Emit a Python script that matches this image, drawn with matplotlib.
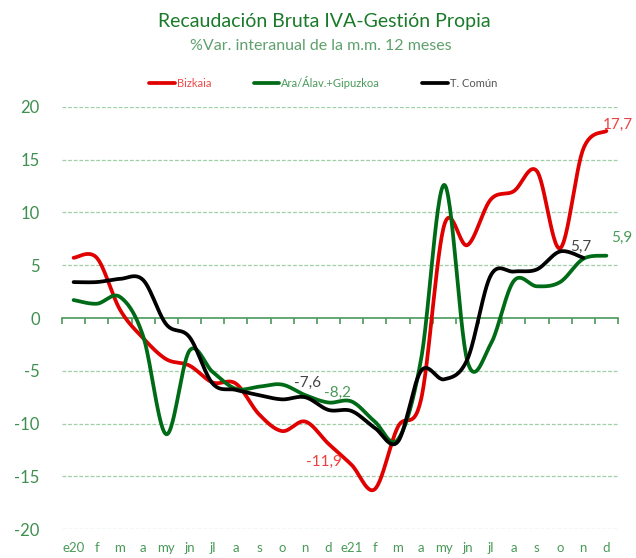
import numpy as np
import matplotlib
matplotlib.use("Agg")
import matplotlib.pyplot as plt

plt.rcParams['font.family'] = ['Lato', 'DejaVu Sans']

months = ['e20', 'f', 'm', 'a', 'my', 'jn', 'jl', 'a', 's', 'o', 'n', 'd',
          'e21', 'f', 'm', 'a', 'my', 'jn', 'jl', 'a', 's', 'o', 'n', 'd']

bizkaia = [5.7, 5.7, 0.8, -1.9, -3.9, -4.5, -6.1, -6.2, -9.1, -10.7, -9.8, -11.9,
           -13.9, -16.2, -10.3, -7.7, 8.8, 6.9, 11.2, 12.0, 13.9, 6.6, 16.0, 17.7]
ara_gip = [1.7, 1.35, 2.0, -1.7, -11.0, -3.1, -5.1, -6.7, -6.5, -6.3, -7.3, -8.0,
           -7.9, -9.8, -11.5, -3.9, 12.6, -4.1, -2.5, 3.5, 3.0, 3.4, 5.6, 5.9]
t_comun = [3.4, 3.4, 3.7, 3.6, -0.6, -1.8, -6.2, -6.8, -7.3, -7.7, -7.5, -8.7,
           -8.8, -10.4, -11.7, -5.0, -5.8, -3.9, 4.0, 4.4, 4.6, 6.3, 5.7]

# data labels: text, x (month index), y
labels = [
    ("-11,9", 10.8, -13.6, '#ee4040'),
    ("-7,6", 10.1, -6.1, '#444444'),
    ("-8,2", 11.4, -7.1, '#4a9a5a'),
    ("5,7", 21.9, 6.75, '#444444'),
    ("5,9", 23.65, 7.6, '#4a9a5a'),
    ("17,7", 23.5, 18.3, '#ee4040'),
]


def smooth(y, n=30):
    # Catmull-Rom style bezier, like Excel's smoothed lines
    y = np.asarray(y, float)
    x = np.arange(len(y), dtype=float)
    p = np.column_stack([x, y])
    p = np.vstack([p[0], p, p[-1]])
    out = []
    t = np.linspace(0, 1, n)[:, None]
    for i in range(1, len(p) - 2):
        p0, p1, p2, p3 = p[i - 1], p[i], p[i + 1], p[i + 2]
        c1 = p1 + (p2 - p0) / 6
        c2 = p2 - (p3 - p1) / 6
        seg = ((1 - t) ** 3) * p1 + 3 * ((1 - t) ** 2) * t * c1 + 3 * (1 - t) * t ** 2 * c2 + t ** 3 * p2
        out.append(seg)
    out = np.vstack(out)
    return out[:, 0], out[:, 1]


fig = plt.figure(figsize=(6.36, 5.58), dpi=100)
ax = fig.add_axes([0.0975, 0.0514, 0.8742, 0.7574])

grid_c = '#9fcfa5'
axis_c = '#4a9a5a'

for v in [-20, -15, -10, -5, 5, 10, 15, 20]:
    ax.axhline(v, color=grid_c, lw=0.9, ls=(0, (3, 1.5)), zorder=0)

series = [(bizkaia, '#e00000', 'Bizkaia', '#ee4a4a'),
          (ara_gip, '#006b17', 'Ara/Álav.+Gipuzkoa', '#4a9a5a'),
          (t_comun, '#000000', 'T. Común', '#555555')]
for vals, c, name, tc in series:
    xs, ys = smooth(vals)
    ax.plot(xs, ys, color=c, lw=2.7, solid_capstyle='round', label=name, zorder=3)

for txt, x, y, c in labels:
    ax.text(x, y, txt, color=c, fontsize=11, ha='center', va='center')

ax.set_xlim(-0.5, len(months) - 0.5)
ax.set_ylim(-20, 20)
for s in ['top', 'right', 'left']:
    ax.spines[s].set_visible(False)
ax.spines['bottom'].set_position(('data', 0))
ax.spines['bottom'].set_color(axis_c)
ax.spines['bottom'].set_linewidth(1.2)
ax.set_xticks(np.arange(len(months) + 1) - 0.5)
ax.set_xticklabels([])
ax.tick_params(axis='x', length=4, width=1.2, color=axis_c, direction='out')
for i, m in enumerate(months):
    ax.text(i, -0.045, m, transform=ax.get_xaxis_transform(), ha='center', va='center',
            color='#4a9a5a', fontsize=9.5)

ax.set_yticks([-20, -15, -10, -5, 0, 5, 10, 15, 20])
ax.set_yticklabels(['-20', '-15', '-10', '-5', '0', '5', '10', '15', '20'])
ax.tick_params(axis='y', length=0, pad=16, labelsize=12, labelcolor='#3f8f4f')

leg = ax.legend(loc='center', bbox_to_anchor=(0.47, 1.058), ncol=3, frameon=False,
                fontsize=8, handlelength=2.3, handletextpad=0.2, columnspacing=3.8)
for t, (_, _, _, tc) in zip(leg.get_texts(), series):
    t.set_color(tc)

fig.text(0.51, 0.962, 'Recaudación Bruta IVA-Gestión Propia', ha='center', va='center',
         fontsize=14, color='#1a7a2a')
fig.text(0.505, 0.918, '%Var. interanual de la m.m. 12 meses', ha='center', va='center',
         fontsize=11.5, color='#5fa06d')

fig.savefig('out.png', dpi=100)
